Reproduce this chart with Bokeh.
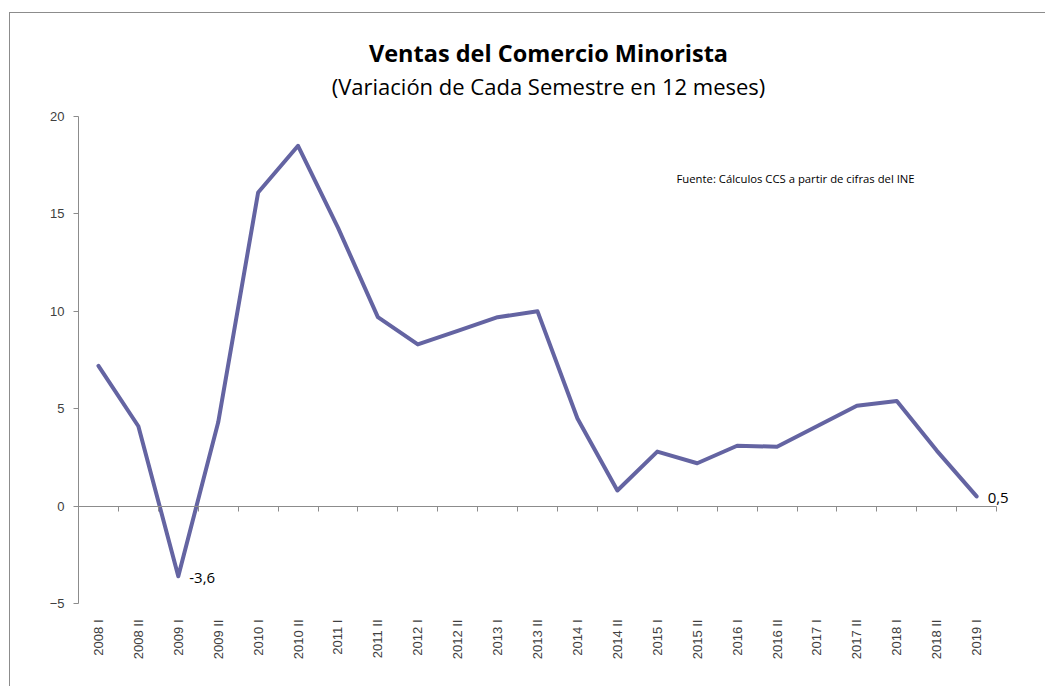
import numpy as np
from bokeh.plotting import figure
from bokeh.models import Range1d, LinearAxis, FixedTicker, Label, ColumnDataSource
from bokeh.embed import file_html
from bokeh.resources import INLINE

# ---- data ----
categories = ["2008 I", "2008 II", "2009 I", "2009 II", "2010 I", "2010 II",
              "2011 I", "2011 II", "2012 I", "2012 II", "2013 I", "2013 II",
              "2014 I", "2014 II", "2015 I", "2015 II", "2016 I", "2016 II",
              "2017 I", "2017 II", "2018 I", "2018 II", "2019 I"]
values = [7.2, 4.1, -3.6, 4.3, 16.1, 18.5, 14.3, 9.7, 8.3, 9.0, 9.7, 10.0,
          4.5, 0.8, 2.8, 2.2, 3.1, 3.05, 4.1, 5.15, 5.4, 2.85, 0.5]
y_ticks = [-5, 0, 5, 10, 15, 20]
annotated = ["2009 I", "2019 I"]
title_text = "Ventas del Comercio Minorista"
subtitle_text = "(Variación de Cada Semestre en 12 meses)"
source_text = "Fuente: Cálculos CCS a partir de cifras del INE"

LINE_COLOR = "#6464A2"
AXIS_COLOR = "#8C8C8C"
TEXT_COLOR = "#404040"
FONT = "Open Sans"

n = len(categories)
xpos = [i + 0.5 for i in range(n)]
src = ColumnDataSource(dict(x=xpos, y=values, cat=categories))

# frame extends up to the top of the canvas so the titles can sit inside it;
# the value axis itself is bounded to the data ticks (-5 .. 20)
p = figure(width=1036, height=674, title=None,
           x_range=Range1d(0, n + 1), y_range=Range1d(-5, 25.29),
           output_backend="svg", toolbar_location=None,
           x_axis_location=None, y_axis_location="left",
           min_border_left=68, min_border_right=10,
           min_border_top=0, min_border_bottom=84)
p.styles = {"margin-top": "12px", "margin-left": "9px",
            "border-top": "1px solid #8C8C8C", "border-left": "1px solid #8C8C8C"}
p.outline_line_color = None
p.grid.grid_line_color = None
p.background_fill_color = "white"
p.border_fill_color = "white"

# y axis
ya = p.yaxis[0]
ya.ticker = FixedTicker(ticks=y_ticks)
ya.bounds = (min(y_ticks), max(y_ticks))
ya.axis_line_color = AXIS_COLOR
ya.major_tick_line_color = AXIS_COLOR
ya.major_tick_out = 5
ya.major_tick_in = 0
ya.minor_tick_line_color = None
ya.major_label_text_font = "Liberation Sans"
ya.major_label_text_font_size = "13px"
ya.major_label_text_color = TEXT_COLOR
ya.major_label_standoff = 9

# zero-line axis with category boundary ticks
za = LinearAxis(fixed_location=0, ticker=FixedTicker(ticks=list(range(n + 1))),
                bounds=(0, n),
                major_label_overrides={i: "" for i in range(n + 1)})
za.axis_line_color = AXIS_COLOR
za.major_tick_line_color = AXIS_COLOR
za.major_tick_out = 5
za.major_tick_in = 0
za.minor_tick_line_color = None
za.major_label_text_font_size = "0px"
p.add_layout(za, "below")

# category label axis at the bottom
la = LinearAxis(ticker=FixedTicker(ticks=xpos), bounds=(0, n),
                major_label_overrides={x: c for x, c in zip(xpos, categories)})
la.axis_line_color = None
la.major_tick_line_color = None
la.minor_tick_line_color = None
la.major_label_orientation = np.pi / 2
la.major_label_text_font = "Liberation Sans"
la.major_label_text_font_size = "13px"
la.major_label_text_color = TEXT_COLOR
la.major_label_standoff = 10
p.add_layout(la, "below")

# titles (screen units, measured from the frame's bottom-left corner)
p.add_layout(Label(x=470, y=551, x_units="screen", y_units="screen",
                   text=title_text, text_align="center", text_baseline="alphabetic",
                   text_font=FONT, text_font_size="23.5px", text_font_style="bold",
                   text_color="black"))
p.add_layout(Label(x=470, y=518, x_units="screen", y_units="screen",
                   text=subtitle_text, text_align="center", text_baseline="alphabetic",
                   text_font=FONT, text_font_size="22px", text_color="black"))

# line
p.line("x", "y", source=src, line_color=LINE_COLOR, line_width=4,
       line_join="round", line_cap="round")

# value labels
for c in annotated:
    i = categories.index(c)
    txt = f"{values[i]:.1f}".replace(".", ",")
    p.add_layout(Label(x=xpos[i], y=values[i], text=txt, x_offset=11, y_offset=-2,
                       text_baseline="middle", text_font=FONT,
                       text_font_size="15px", text_color="black"))

# source note
p.add_layout(Label(x=598, y=425, x_units="screen", y_units="screen",
                   text=source_text, text_baseline="middle", text_font=FONT,
                   text_font_size="11.3px", text_color="black"))

open("out.html", "w").write(file_html(p, INLINE))
